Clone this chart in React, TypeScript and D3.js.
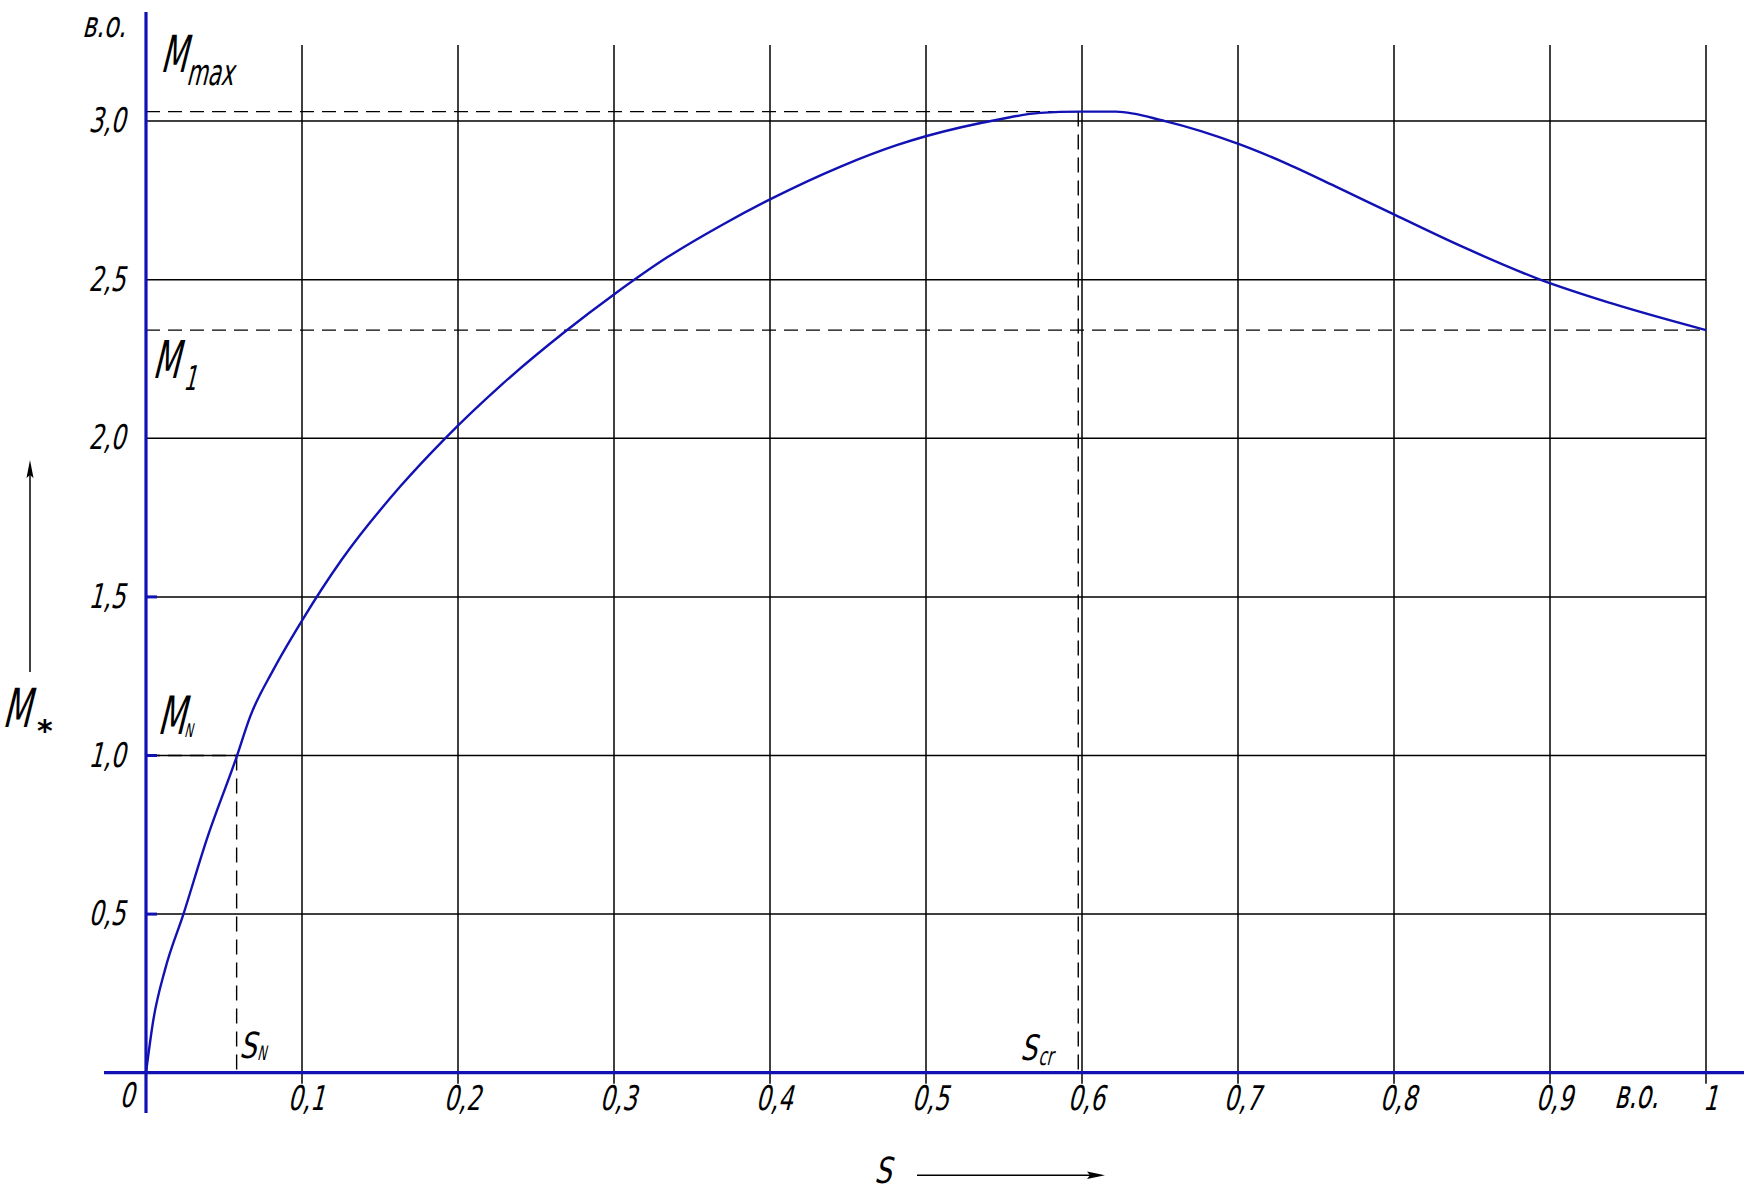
import React from "react";
import * as d3 from "d3";

// Torque–slip characteristic (relative units)
const slip = [0, 0.0047, 0.0122, 0.024, 0.0389, 0.0581, 0.0667, 0.0816, 0.1002, 0.1254, 0.1628, 0.1918, 0.2266, 0.2683, 0.3004, 0.3346, 0.3701, 0.4003, 0.4449, 0.4817, 0.5004, 0.5475, 0.573, 0.5987, 0.6219, 0.6532, 0.7003, 0.7294, 0.7621, 0.8003, 0.8438, 0.8928, 0.9391, 1.0];
const torque = [0, 0.166, 0.325, 0.5, 0.735, 0.996, 1.122, 1.27, 1.427, 1.617, 1.847, 2.0, 2.163, 2.335, 2.455, 2.572, 2.675, 2.754, 2.856, 2.925, 2.953, 3.006, 3.026, 3.03, 3.03, 3.0, 2.928, 2.87, 2.795, 2.705, 2.604, 2.502, 2.426, 2.341];

const xTicks = [0.1, 0.2, 0.3, 0.4, 0.5, 0.6, 0.7, 0.8, 0.9, 1];
const xTickLabels = ["0,1", "0,2", "0,3", "0,4", "0,5", "0,6", "0,7", "0,8", "0,9", "1"];
const yTicks = [0.5, 1.0, 1.5, 2.0, 2.5, 3.0];
const yTickLabels = ["0,5", "1,0", "1,5", "2,0", "2,5", "3,0"];
const yStubTicks = [0.5, 1.0, 1.5];

const Mmax = 3.03;
const M1 = 2.341;
const MN = 1.0;
const sN = 0.0581;
const sCr = 0.5976;

const BLUE = "#1212b4";
const FONT = "'DejaVu Sans', sans-serif";

function T({ x, y, size, text, anchor = "start", sx = 0.6, weight = "normal" }: any) {
  return (
    <text
      transform={`translate(${x},${y}) skewX(-14) scale(${sx},1)`}
      fontFamily={FONT}
      fontSize={size}
      fontWeight={weight}
      textAnchor={anchor}
      fill="#000"
    >
      {text}
    </text>
  );
}

export default function App() {
  const x = d3.scaleLinear().domain([0, 1]).range([146, 1706]);
  const y = d3.scaleLinear().domain([0, 3]).range([1072.7, 121.1]);
  const line = d3
    .line<number>()
    .x((_, i) => x(slip[i]))
    .y((d) => y(d))
    .curve(d3.curveMonotoneX);
  const pathD = line(torque) || "";
  const gridTop = 45;
  const x0 = x(0);
  const y0 = y(0);

  return (
    <svg
      width={1746}
      height={1198}
      style={{ position: "absolute", left: 0, top: 0, background: "#fff" }}
    >
      <rect width={1746} height={1198} fill="#fff" />
      {/* vertical grid */}
      {xTicks.map((t) => (
        <line key={"vx" + t} x1={x(t)} x2={x(t)} y1={gridTop} y2={y0 + 11} stroke="#000" strokeWidth={1.5} />
      ))}
      {/* horizontal grid */}
      {yTicks.map((t) => (
        <line key={"hy" + t} x1={x0} x2={x(1)} y1={y(t)} y2={y(t)} stroke="#000" strokeWidth={1.5} />
      ))}
      {/* dashed reference lines */}
      <line x1={x0} x2={x(sCr)} y1={y(Mmax)} y2={y(Mmax)} stroke="#000" strokeWidth={1.4} strokeDasharray="14,8" />
      <line x1={x(sCr)} x2={x(sCr)} y1={y(Mmax)} y2={y0} stroke="#000" strokeWidth={1.4} strokeDasharray="15,8" />
      <line x1={x0} x2={x(1)} y1={y(M1)} y2={y(M1)} stroke="#000" strokeWidth={1.4} strokeDasharray="14,8" />
      <line x1={x0} x2={x(sN)} y1={y(MN)} y2={y(MN)} stroke="#000" strokeWidth={1.4} strokeDasharray="14,8" />
      <line x1={x(sN)} x2={x(sN)} y1={y(MN)} y2={y0} stroke="#000" strokeWidth={1.4} strokeDasharray="15,8" />

      {/* curve */}
      <path d={pathD} fill="none" stroke={BLUE} strokeWidth={2.4} />

      {/* axes */}
      <line x1={x0} x2={x0} y1={12} y2={1113} stroke={BLUE} strokeWidth={3.2} />
      <line x1={104} x2={1744} y1={y0} y2={y0} stroke={BLUE} strokeWidth={3.2} />
      {yStubTicks.map((t) => (
        <line key={"st" + t} x1={x0} x2={x0 + 11} y1={y(t)} y2={y(t)} stroke={BLUE} strokeWidth={3} />
      ))}

      {/* y tick labels */}
      {yTicks.map((t, i) => (
        <T key={"yl" + t} x={125} y={y(t) + 11} size={34} sx={0.68} text={yTickLabels[i]} anchor="end" />
      ))}
      {/* x tick labels */}
      {xTicks.map((t, i) => (
        <T key={"xl" + t} x={x(t) + 4} y={1110} size={34} sx={0.68} text={xTickLabels[i]} anchor="middle" />
      ))}
      <T x={134} y={1107} size={34} sx={0.68} text="0" anchor="end" />
      <T x={1614} y={1108} size={40} text="в.о." />
      <T x={82} y={37} size={36} sx={0.66} text="в.о." />

      {/* annotations */}
      <T x={160} y={72} size={51} text="M" />
      <T x={186} y={85} size={36} text="max" />
      <T x={152} y={378} size={52} text="M" />
      <T x={183} y={390} size={34} text="1" />
      <T x={157} y={734} size={53} text="M" />
      <T x={184} y={737} size={19} text="N" />
      <T x={239} y={1058} size={36} sx={0.75} text="S" />
      <T x={257} y={1060} size={20} text="N" />
      <T x={1020} y={1060} size={35} sx={0.75} text="S" />
      <T x={1038} y={1065} size={25} text="cr" />

      {/* y axis title with arrow */}
      <T x={2} y={727} size={54} text="M" />
      <text x={37} y={741} fontFamily={FONT} fontSize={30} fontWeight="bold" fill="#000">*</text>
      <line x1={30} x2={30} y1={672} y2={470} stroke="#000" strokeWidth={1.5} />
      <polygon points="30,460 26.5,478 30,475 33.5,478" fill="#000" />

      {/* x axis title with arrow */}
      <T x={874} y={1183} size={36} sx={0.75} text="S" />
      <line x1={917} x2={1095} y1={1175.3} y2={1175.3} stroke="#000" strokeWidth={1.5} />
      <polygon points="1105,1175.3 1087,1171.5 1090,1175.3 1087,1179" fill="#000" />
    </svg>
  );
}
